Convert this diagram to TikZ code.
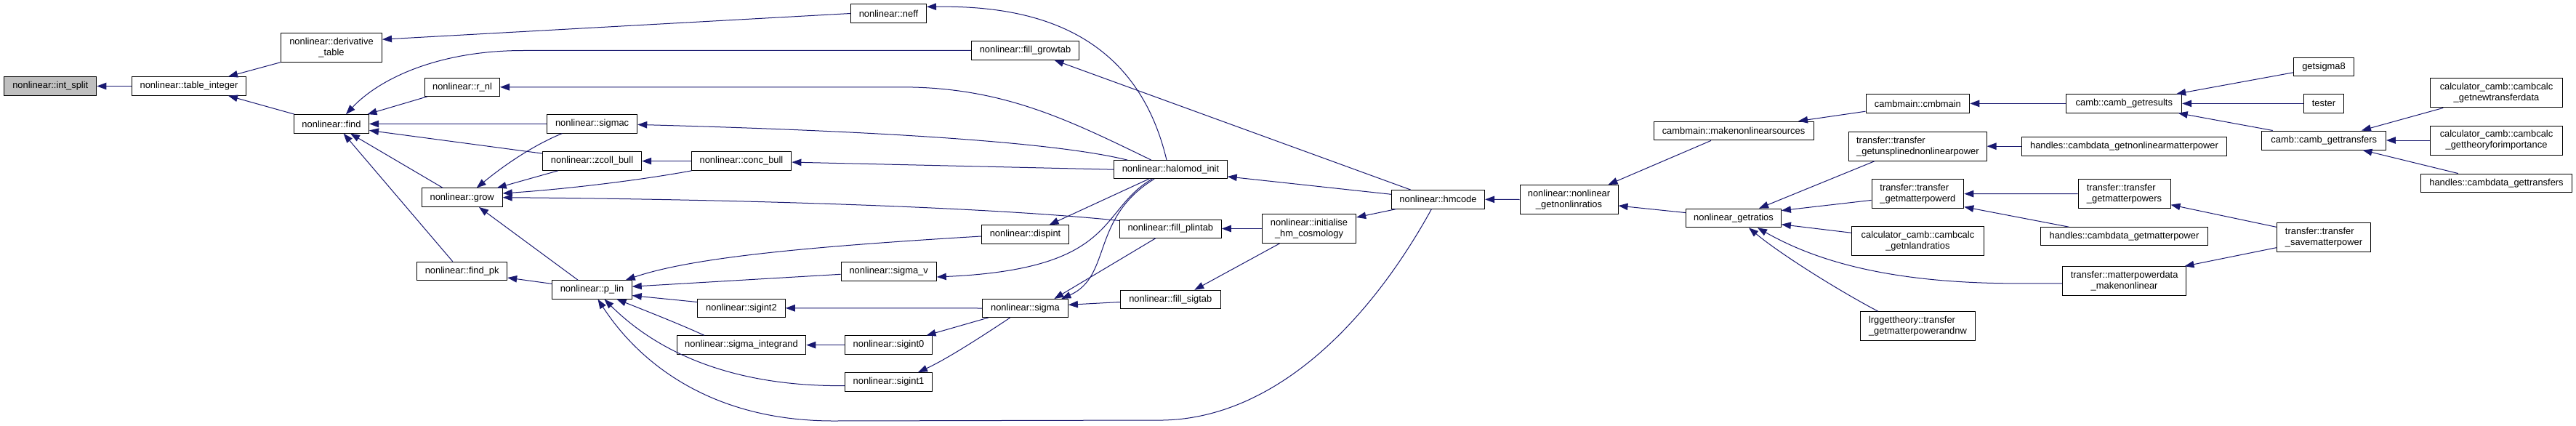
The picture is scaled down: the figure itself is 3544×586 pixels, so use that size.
\documentclass[tikz,border=0pt]{standalone}
\usepackage{fontspec}
\setmainfont{Liberation Sans}
\usetikzlibrary{arrows.meta,calc}
\definecolor{edgeblue}{HTML}{191970}
\definecolor{selgray}{HTML}{BFBFBF}
\begin{document}
\begin{tikzpicture}[x=1pt,y=-1pt,
  box/.style={draw=black, line width=1pt, fill=white, inner sep=0pt, font=\fontsize{12.9}{15}\selectfont, align=center},
  lbox/.style={box, align=left},
  edge/.style={draw=edgeblue, line width=1pt, -{Triangle[length=13pt,width=9.5pt]}}]
\useasboundingbox (0,0) rectangle (3544,586);
% nodes
\node[box, fill=selgray, minimum width=127pt, minimum height=25.5pt] (intsplit) at (69.3,118.5) {nonlinear::int\_split};
\node[box, minimum width=156.5pt, minimum height=25.5pt] (tableint) at (260,118.5) {nonlinear::table\_integer};
\node[box, minimum width=139pt, minimum height=40pt] (dertab) at (456,65.2) {nonlinear::derivative\\\_table};
\node[box, minimum width=103pt, minimum height=25.5pt] (find) at (456,170.4) {nonlinear::find};
\node[box, minimum width=103pt, minimum height=25pt] (rnl) at (636,119.8) {nonlinear::r\_nl};
\node[box, minimum width=124.3pt, minimum height=25.5pt] (sigmac) at (814.6,170.4) {nonlinear::sigmac};
\node[box, minimum width=136.3pt, minimum height=25.5pt] (zcoll) at (814.5,221.6) {nonlinear::zcoll\_bull};
\node[box, minimum width=137.8pt, minimum height=25.5pt] (conc) at (1020,221.6) {nonlinear::conc\_bull};
\node[box, minimum width=111pt, minimum height=25.5pt] (grow) at (635.7,271.7) {nonlinear::grow};
\node[box, minimum width=124pt, minimum height=25.8pt] (findpk) at (635.7,373) {nonlinear::find\_pk};
\node[box, minimum width=109.5pt, minimum height=25.5pt] (plin) at (814.5,398.4) {nonlinear::p\_lin};
\node[box, minimum width=120.5pt, minimum height=25.5pt] (sigint2) at (1020,423.8) {nonlinear::sigint2};
\node[box, minimum width=177.7pt, minimum height=25.5pt] (sigintegrand) at (1020,474.6) {nonlinear::sigma\_integrand};
\node[box, minimum width=104pt, minimum height=25.8pt] (neff) at (1222.5,18.5) {nonlinear::neff};
\node[box, minimum width=148pt, minimum height=25.4pt] (fillgrow) at (1410.5,69.5) {nonlinear::fill\_growtab};
\node[box, minimum width=155.4pt, minimum height=25pt] (halomod) at (1610.5,233.2) {nonlinear::halomod\_init};
\node[box, minimum width=140pt, minimum height=25pt] (fillplin) at (1610.3,314.5) {nonlinear::fill\_plintab};
\node[box, minimum width=120.5pt, minimum height=25.4pt] (dispint) at (1410.5,322.5) {nonlinear::dispint};
\node[box, minimum width=131.3pt, minimum height=25.4pt] (sigmav) at (1222.7,373.3) {nonlinear::sigma\_v};
\node[box, minimum width=118pt, minimum height=25pt] (sigma) at (1410.4,424) {nonlinear::sigma};
\node[box, minimum width=138pt, minimum height=25pt] (fillsig) at (1610.3,411.8) {nonlinear::fill\_sigtab};
\node[box, minimum width=120pt, minimum height=25.4pt] (sigint0) at (1222.5,474.6) {nonlinear::sigint0};
\node[box, minimum width=120pt, minimum height=25.4pt] (sigint1) at (1222.5,525.4) {nonlinear::sigint1};
\node[box, minimum width=128.2pt, minimum height=25.4pt] (hmcode) at (1978.5,274.3) {nonlinear::hmcode};
\node[box, minimum width=129.3pt, minimum height=40pt] (inithm) at (1801,314.5) {nonlinear::initialise\\\_hm\_cosmology};
\node[box, minimum width=135pt, minimum height=40pt] (nlratios) at (2158.5,274.5) {nonlinear::nonlinear\\\_getnonlinratios};
\node[box, minimum width=220pt, minimum height=25.8pt] (mknlsrc) at (2385,180) {cambmain::makenonlinearsources};
\node[box, minimum width=142.8pt, minimum height=25.4pt] (cmbmain) at (2638.4,142.4) {cambmain::cmbmain};
\node[box, minimum width=130.8pt, minimum height=25.8pt] (getratios) at (2385,300) {nonlinear\_getratios};
\node[lbox, minimum width=189.2pt, minimum height=40pt] (unspl) at (2638.4,201.2) {transfer::transfer\\\_getunsplinednonlinearpower};
\node[lbox, minimum width=126.8pt, minimum height=40pt] (mpd) at (2638.4,266.6) {transfer::transfer\\\_getmatterpowerd};
\node[box, minimum width=181.2pt, minimum height=40pt] (nlandr) at (2638.4,331.5) {calculator\_camb::cambcalc\\\_getnlandratios};
\node[lbox, minimum width=157.2pt, minimum height=40pt] (lrg) at (2638.4,448.8) {lrggettheory::transfer\\\_getmatterpowerandnw};
\node[box, minimum width=158.7pt, minimum height=25.4pt] (getres) at (2922.3,142.4) {camb::camb\_getresults};
\node[box, minimum width=281.6pt, minimum height=25.7pt] (hnlmp) at (2922.5,201.2) {handles::cambdata\_getnonlinearmatterpower};
\node[lbox, minimum width=127pt, minimum height=39.6pt] (mps) at (2922.5,266.5) {transfer::transfer\\\_getmatterpowers};
\node[box, minimum width=229.6pt, minimum height=25.3pt] (hmp) at (2922.5,325.3) {handles::cambdata\_getmatterpower};
\node[box, minimum width=170.7pt, minimum height=40pt] (mpdnl) at (2922.6,386.7) {transfer::matterpowerdata\\\_makenonlinear};
\node[box, minimum width=83.3pt, minimum height=25.4pt] (sig8) at (3197,92) {getsigma8};
\node[box, minimum width=55pt, minimum height=25.4pt] (tester) at (3197,142.4) {tester};
\node[box, minimum width=170.5pt, minimum height=26pt] (gettr) at (3197.2,193) {camb::camb\_gettransfers};
\node[lbox, minimum width=129.7pt, minimum height=40pt] (savemp) at (3197,326.7) {transfer::transfer\\\_savematterpower};
\node[box, minimum width=181.6pt, minimum height=40.3pt] (newtr) at (3434.5,127.8) {calculator\_camb::cambcalc\\\_getnewtransferdata};
\node[box, minimum width=181.6pt, minimum height=40pt] (theory) at (3434.5,193) {calculator\_camb::cambcalc\\\_gettheoryforimportance};
\node[box, minimum width=208.4pt, minimum height=25.3pt] (hgettr) at (3434.5,251.7) {handles::cambdata\_gettransfers};
% edges
\draw[edge] (tableint.west) -- (intsplit.east);
\draw[edge] (dertab.south west) -- ($(tableint.north)+(54,0)$);
\draw[edge] ($(find.north west)+(1,0)$) -- ($(tableint.south)+(54,0)$);
\draw[edge] (neff.west) -- ($(dertab.east)+(0,-11)$);
\draw[edge] (fillgrow.west) -- (720,69.5) .. controls (600,69.5) and (520,110) .. ($(find.north)+(20,0)$);
\draw[edge] ($(rnl.south west)+(4,0)$) -- ($(find.north east)+(-2.5,0)$);
\draw[edge] (sigmac.west) -- (find.east);
\draw[edge] ($(zcoll.west)+(0,-10.5)$) -- ($(find.east)+(0,9)$);
\draw[edge] ($(grow.north)+(-26.4,0)$) -- ($(find.south)+(26,0)$);
\draw[edge] ($(findpk.north)+(-13,0)$) -- ($(find.south)+(16.6,0)$);
\draw[edge] ($(halomod.north)+(-5.5,0)$) .. controls (1560,30) and (1400,8) .. ($(neff.east)+(0,-9.2)$);
\draw[edge] ($(hmcode.north)+(-37.7,0)$) -- ($(fillgrow.south)+(40,0)$);
\draw[edge] ($(halomod.north)+(-26.5,0)$) .. controls (1470,165) and (1380,119.8) .. (1240,119.8) -- (rnl.east);
\draw[edge] ($(halomod.north west)+(19,0)$) .. controls (1450,195) and (1200,180) .. ($(sigmac.east)+(0,1)$);
\draw[edge] (halomod.west) -- ($(conc.east)+(0,1.5)$);
\draw[edge] (conc.west) -- (zcoll.east);
\draw[edge] ($(zcoll.south west)+(21.8,0)$) -- ($(grow.north east)+(-8,0)$);
\draw[edge] ($(sigmac.south west)+(21.4,0)$) .. controls (740,197) and (700,222) .. ($(grow.north)+(20,0)$);
\draw[edge] ($(conc.south west)+(0.8,0)$) .. controls (880,248) and (780,260) .. ($(grow.east)+(0,-5.7)$);
\draw[edge] ($(fillplin.west)+(0,-11)$) .. controls (1350,284) and (1000,274) .. (grow.east);
\draw[edge] ($(plin.north)+(-19.5,0)$) -- ($(grow.south)+(23.3,0)$);
\draw[edge] ($(plin.west)+(0,-8)$) -- ($(findpk.east)+(0,9)$);
\draw[edge] ($(dispint.west)+(0,2.5)$) .. controls (1100,340) and (950,355) .. ($(plin.north east)+(-9,0)$);
\draw[edge] ($(sigmav.west)+(0,4)$) -- ($(plin.east)+(0,-4.2)$);
\draw[edge] ($(sigint2.west)+(0,-8.3)$) -- ($(plin.east)+(0,8.2)$);
\draw[edge] ($(sigintegrand.north)+(-51,0)$) .. controls (940,448) and (900,432) .. ($(plin.south)+(34,0)$);
\draw[edge] ($(sigint1.west)+(0,5.2)$) .. controls (1000,532) and (900,480) .. ($(plin.south)+(17,0)$);
\draw[edge] ($(hmcode.south)+(-9,0)$) .. controls (1880,450) and (1750,575) .. (1600,578) -- (1150,579) .. controls (980,580) and (880,500) .. ($(plin.south)+(8,0)$);
\draw[edge] (sigma.west) -- (sigint2.east);
\draw[edge] (sigint0.west) -- (sigintegrand.east);
\draw[edge] ($(sigma.south west)+(8.8,0)$) -- ($(sigint0.north east)+(-8.5,0)$);
\draw[edge] ($(sigma.south)+(-20.7,0)$) .. controls (1340,470) and (1300,495) .. ($(sigint1.north east)+(-20,0)$);
\draw[edge] ($(halomod.south)+(-30,0)$) -- ($(dispint.north)+(33,0)$);
\draw[edge] ($(halomod.south)+(-25.5,0)$) .. controls (1510,290) and (1540,370) .. ($(sigmav.east)+(0,7.7)$);
\draw[edge] ($(halomod.south)+(-22.5,0)$) .. controls (1500,300) and (1530,380) .. ($(sigma.north)+(50,0)$);
\draw[edge] ($(fillplin.south)+(-20,0)$) -- ($(sigma.north)+(40,0)$);
\draw[edge] ($(fillsig.west)+(0,3.7)$) -- ($(sigma.east)+(0,-4.7)$);
\draw[edge] ($(hmcode.west)+(0,-7)$) -- ($(halomod.east)+(0,9.7)$);
\draw[edge] (inithm.west) -- (fillplin.east);
\draw[edge] ($(inithm.south west)+(24.5,0)$) -- ($(fillsig.north)+(33,0)$);
\draw[edge] ($(hmcode.south west)+(7.3,0)$) -- ($(inithm.east)+(0,-15.5)$);
\draw[edge] (nlratios.west) -- (hmcode.east);
\draw[edge] ($(mknlsrc.south)+(-31,0)$) -- ($(nlratios.north east)+(-14,0)$);
\draw[edge] ($(getratios.west)+(0,-7.4)$) -- ($(nlratios.east)+(0,8.5)$);
\draw[edge] ($(cmbmain.west)+(0,10.8)$) -- ($(mknlsrc.north)+(89,0)$);
\draw[edge] (getres.west) -- (cmbmain.east);
\draw[edge] ($(sig8.west)+(0,7.8)$) -- ($(getres.north east)+(-8,0)$);
\draw[edge] (tester.west) -- (getres.east);
\draw[edge] ($(gettr.north)+(-70.5,0)$) -- ($(getres.south east)+(-5.5,0)$);
\draw[edge] ($(newtr.south west)+(18,0)$) -- ($(gettr.north east)+(-34,0)$);
\draw[edge] (theory.west) -- (gettr.east);
\draw[edge] ($(hgettr.north)+(-52.8,0)$) -- ($(gettr.south east)+(-32.5,0)$);
\draw[edge] ($(unspl.south west)+(35.7,0)$) -- ($(getratios.north)+(35,0)$);
\draw[edge] ($(mpd.west)+(0,8.8)$) -- ($(getratios.east)+(0,-10.4)$);
\draw[edge] ($(nlandr.west)+(0,-11.2)$) -- ($(getratios.east)+(0,8.7)$);
\draw[edge] ($(mpdnl.west)+(0,3.1)$) -- (2760,389.8) .. controls (2600,388) and (2500,360) .. ($(getratios.south)+(33,0)$);
\draw[edge] ($(lrg.north)+(-54.5,0)$) .. controls (2530,400) and (2450,350) .. ($(getratios.south)+(21,0)$);
\draw[edge] (hnlmp.west) -- (unspl.east);
\draw[edge] (mps.west) -- (mpd.east);
\draw[edge] ($(hmp.north west)+(39,0)$) -- ($(mpd.east)+(0,18)$);
\draw[edge] ($(savemp.west)+(0,-14.4)$) -- ($(mps.east)+(0,15.2)$);
\draw[edge] ($(savemp.west)+(0,14)$) -- ($(mpdnl.north east)+(-3,0)$);
\end{tikzpicture}
\end{document}
